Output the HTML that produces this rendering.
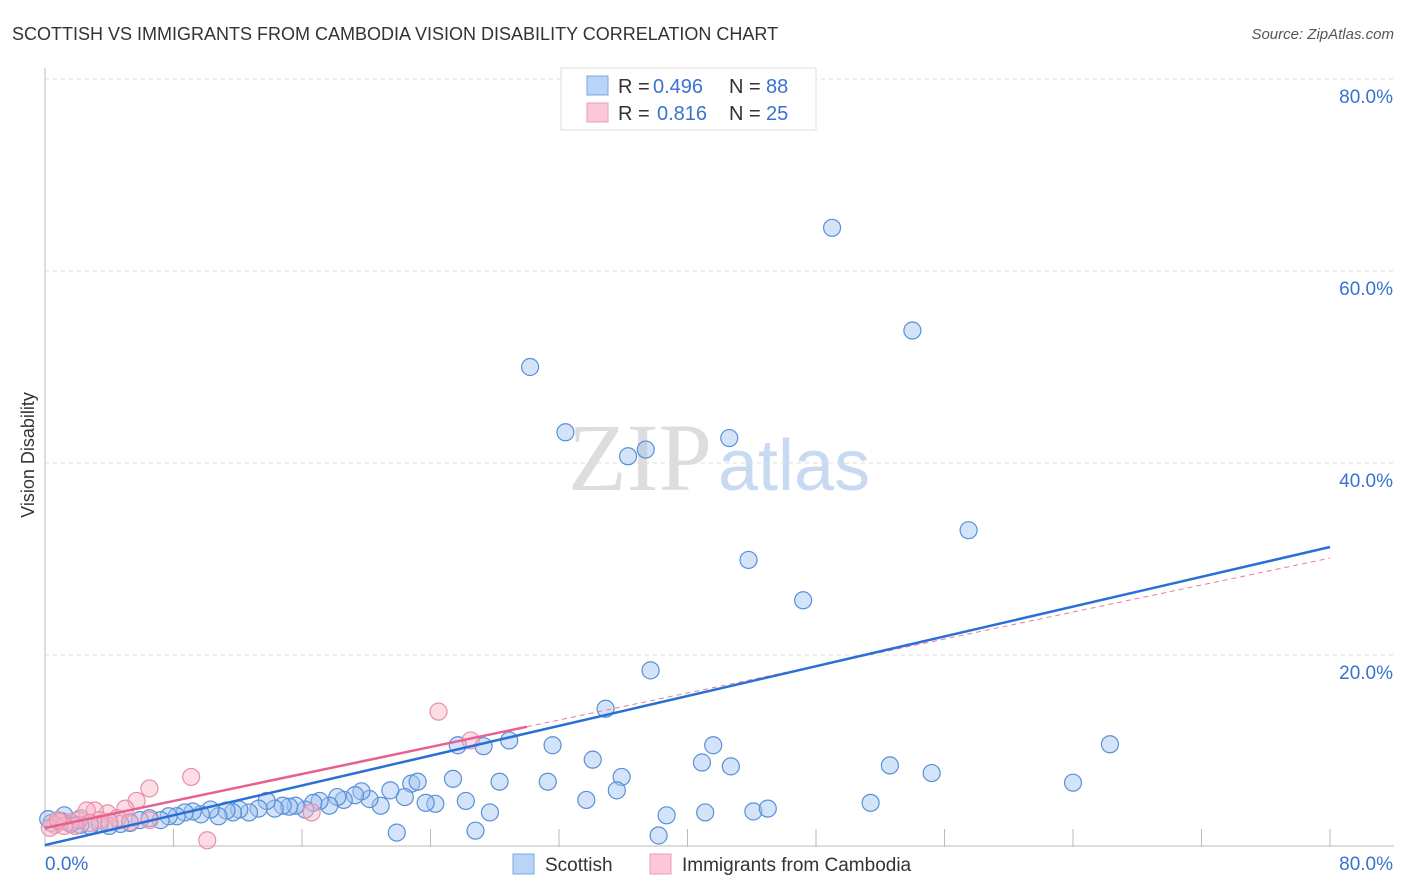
<!DOCTYPE html>
<html><head><meta charset="utf-8"><style>
body{margin:0;background:#fff;font-family:"Liberation Sans",sans-serif}
svg{display:block}
</style></head><body>
<svg id="chart" width="1406" height="892">
<text x="12" y="40" font-size="18" fill="#333">SCOTTISH VS IMMIGRANTS FROM CAMBODIA VISION DISABILITY CORRELATION CHART</text>
<text x="1394" y="39" font-size="15" fill="#555" font-style="italic" text-anchor="end">Source: ZipAtlas.com</text>
<text x="34" y="455" font-size="18" fill="#333" transform="rotate(-90 34 455)" text-anchor="middle">Vision Disability</text>
<g><text x="712" y="490" font-size="96" fill="#ddd" font-family="Liberation Serif,serif" text-anchor="end">ZIP</text><text x="718" y="490" font-size="72" fill="#c8daf2">atlas</text></g>
<g id="grid"></g><g id="axes"></g><g id="pts"></g><g id="lines"></g>
<g>
<rect x="561" y="68" width="255" height="62" fill="#fff" stroke="#ddd"/>
<rect x="587" y="76" width="21" height="19" fill="#b8d4f6" stroke="#7aa8e0"/>
<rect x="587" y="103" width="21" height="19" fill="#fac8d6" stroke="#ee9cb6"/>
<text x="618" y="93" font-size="20" fill="#333">R =</text>
<text x="653" y="93" font-size="20" fill="#3a72d0">0.496</text>
<text x="729" y="93" font-size="20" fill="#333">N =</text>
<text x="766" y="93" font-size="20" fill="#3a72d0">88</text>
<text x="618" y="120" font-size="20" fill="#333">R =</text>
<text x="657" y="120" font-size="20" fill="#3a72d0">0.816</text>
<text x="729" y="120" font-size="20" fill="#333">N =</text>
<text x="766" y="120" font-size="20" fill="#3a72d0">25</text>
</g>
<g>
<rect x="513" y="854" width="21" height="20" fill="#b8d4f6" stroke="#7aa8e0"/>
<text x="545" y="871" font-size="19" fill="#333">Scottish</text>
<rect x="650" y="854" width="21" height="20" fill="#fac8d6" stroke="#ee9cb6"/>
<text x="682" y="871" font-size="19" fill="#333">Immigrants from Cambodia</text>
</g>
</svg>
<script>
const yTicks=[20,40,60,80];
const yTickLabels=["20.0%","40.0%","60.0%","80.0%"];
const xTicks=[0,8,16,24,32,40,48,56,64,72,80];
const xEndLabels=["0.0%","80.0%"];
const scottishX=[30.2,49.0,54.0,32.4,36.3,37.4,42.6,43.8,57.5,47.2,37.7,34.9,25.7,27.3,28.9,31.6,34.1,41.6,40.9,42.7,52.6,55.2,66.3,64.0,35.9,35.6,28.3,31.3,25.4,22.8,23.2,26.2,27.7,33.7,38.7,41.1,44.1,45.0,51.4,21.9,26.8,38.2,24.3,23.7,22.4,21.5,20.9,20.2,19.7,19.3,18.6,18.2,17.7,17.1,16.7,16.2,15.6,15.2,14.8,14.3,13.8,13.3,12.7,12.1,11.7,11.3,10.8,10.3,9.7,9.2,8.7,8.2,7.7,7.2,6.5,5.9,5.3,4.7,4.0,3.4,2.8,2.2,1.6,0.4,0.2,1.2,2.1,1.0];
const scottishY=[50.0,64.5,53.8,43.2,40.7,41.4,42.6,29.9,33.0,25.7,18.4,14.4,10.6,10.5,11.1,10.6,9.1,10.6,8.8,8.4,8.5,7.7,10.7,6.7,7.3,5.9,6.8,6.8,7.1,6.6,6.8,4.8,3.6,4.9,3.3,3.6,3.7,4.0,4.6,1.5,1.7,1.2,4.5,4.6,5.2,5.9,4.3,5.0,5.8,5.4,4.9,5.2,4.3,4.8,4.6,3.9,4.3,4.2,4.3,4.0,4.8,4.0,3.6,3.9,3.6,3.8,3.2,3.9,3.4,3.7,3.6,3.2,3.2,2.8,3.0,2.8,2.5,2.4,2.2,2.4,2.2,2.3,2.4,2.5,2.9,3.3,2.8,2.7];
const cambodiaX=[24.5,26.5,9.1,6.5,5.7,5.0,3.9,3.1,2.6,10.1,16.6,4.5,2.2,1.6,0.9,0.6,0.3,3.4,6.5,2.8,5.3,4.0,1.9,1.2,0.8];
const cambodiaY=[14.1,11.1,7.3,6.1,4.8,4.0,3.5,3.8,3.8,0.7,3.6,3.0,3.0,2.6,2.6,2.3,2.0,2.8,2.8,2.5,2.6,2.6,2.2,2.2,2.8];
const scottishTrend=[0.2,31.25];
const cambodiaTrend=[1.98,30.1];
const cambodiaSolidEnd=30;

const NS="http://www.w3.org/2000/svg";
const X0=45,X1=1330,Y0=847,Y1=79;
function sx(v){return X0+(v/80)*(X1-X0);}
function sy(v){return Y0-(v/80)*(Y0-Y1);}
function mk(tag,attrs,parent){const e=document.createElementNS(NS,tag);for(const k in attrs)e.setAttribute(k,attrs[k]);parent.appendChild(e);return e;}
const grid=document.getElementById('grid'),axes=document.getElementById('axes'),pts=document.getElementById('pts'),lines=document.getElementById('lines');
yTicks.forEach((t,i)=>{
  const l=mk('line',{x1:X0,x2:1394,y1:sy(t),y2:sy(t),stroke:'#ddd','stroke-dasharray':'4,4'},grid);
  
  
  const tx=mk('text',{x:1393,y:sy(t)+24,'font-size':19,fill:'#3a72d0','text-anchor':'end'},axes);
  tx.textContent=yTickLabels[i];
  
  
});
const ax=mk('line',{x1:X0,x2:X0,y1:68,y2:Y0,stroke:'#bbb'},axes);


const bx=mk('line',{x1:X0,x2:1394,y1:Y0-1,y2:Y0-1,stroke:'#bbb'},axes);


xTicks.forEach(t=>{
  const l=mk('line',{x1:sx(t),x2:sx(t),y1:Y0-18,y2:Y0,stroke:'#bbb'},axes);
  
  
});
const xl0=mk('text',{x:45,y:870,'font-size':19,fill:'#3a72d0'},axes);
xl0.textContent=xEndLabels[0];


const xl1=mk('text',{x:1393,y:870,'font-size':19,fill:'#3a72d0','text-anchor':'end'},axes);
xl1.textContent=xEndLabels[1];


scottishX.forEach((v,i)=>{
  const c=mk('circle',{cx:sx(v),cy:sy(scottishY[i]),r:8.5,fill:'rgba(160,196,240,0.45)',stroke:'#5a8fd8','stroke-width':1.2},pts);
  
  
});
cambodiaX.forEach((v,i)=>{
  const c=mk('circle',{cx:sx(v),cy:sy(cambodiaY[i]),r:8.5,fill:'rgba(248,180,200,0.45)',stroke:'#e890a8','stroke-width':1.2},pts);
  
  
});
function ty(tr,x){return tr[0]+(tr[1]-tr[0])*x/80;}
const pd=mk('line',{x1:sx(cambodiaSolidEnd),y1:sy(ty(cambodiaTrend,cambodiaSolidEnd)),x2:sx(80),y2:sy(cambodiaTrend[1]),stroke:'#e87aa0','stroke-width':1,'stroke-dasharray':'5,4'},lines);


const bl=mk('line',{x1:sx(0),y1:sy(scottishTrend[0]),x2:sx(80),y2:sy(scottishTrend[1]),stroke:'#2a6fd6','stroke-width':2.5},lines);


const pl=mk('line',{x1:sx(0),y1:sy(cambodiaTrend[0]),x2:sx(cambodiaSolidEnd),y2:sy(ty(cambodiaTrend,cambodiaSolidEnd)),stroke:'#e8608e','stroke-width':2.5},lines);


</script>
</body></html>
